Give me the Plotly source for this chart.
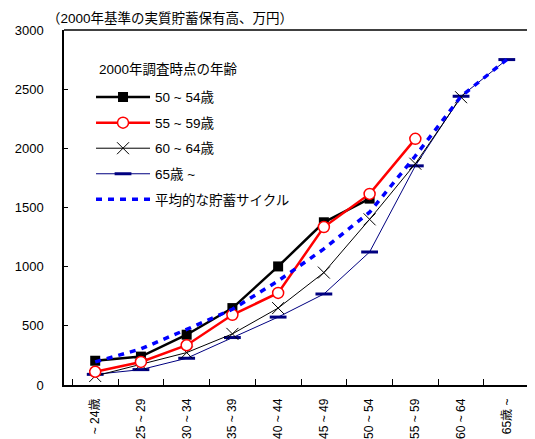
import plotly.graph_objects as go

categories = ["~ 24歳", "25 ~ 29", "30 ~ 34", "35 ~ 39", "40 ~ 44", "45 ~ 49",
              "50 ~ 54", "55 ~ 59", "60 ~ 64", "65歳 ~"]
y_ticks = [0, 500, 1000, 1500, 2000, 2500, 3000]

s50_54 = [205, 240, 425, 650, 1002, 1375, 1575]
s55_59 = [112, 195, 336, 593, 778, 1335, 1615, 2080]
s60_64 = [76, 175, 274, 432, 650, 950, 1400, 1870, 2432]
s65 = [90, 130, 226, 401, 574, 769, 1124, 1852, 2440, 2750]
avg_cycle = [195, 305, 470, 640, 880, 1150, 1460, 1935, 2440, 2750]

names = ["50 ~ 54歳", "55 ~ 59歳", "60 ~ 64歳", "65歳 ~", "平均的な貯蓄サイクル"]
legend_title = "2000年調査時点の年齢"
axis_title = "（2000年基準の実質貯蓄保有高、万円）"

FONT = "Liberation Sans, Noto Sans CJK JP, sans-serif"

fig = go.Figure()
fig.add_trace(go.Scatter(
    x=categories[:len(s65)], y=s65, name=names[3], mode="lines+markers",
    line=dict(color="#000080", width=1),
    marker=dict(symbol="line-ew", size=12, line=dict(color="#000080", width=3)),
    legendgroup="d", legendrank=4))
fig.add_trace(go.Scatter(
    x=categories[:len(s60_64)], y=s60_64, name=names[2], mode="lines+markers",
    line=dict(color="black", width=1),
    marker=dict(symbol="x-thin", size=12, line=dict(color="black", width=1)),
    legendgroup="c", legendrank=3))
fig.add_trace(go.Scatter(
    x=categories[:len(s50_54)], y=s50_54, name=names[0], mode="lines+markers",
    line=dict(color="black", width=2.5),
    marker=dict(symbol="square", size=10, color="black"),
    legendgroup="a", legendrank=1))
fig.add_trace(go.Scatter(
    x=categories[:len(s55_59)], y=s55_59, name=names[1], mode="lines+markers",
    line=dict(color="#FF0000", width=2.5),
    marker=dict(symbol="circle", size=11, color="white",
                line=dict(color="#FF0000", width=1.5)),
    legendgroup="b", legendrank=2))
fig.add_trace(go.Scatter(
    x=categories, y=avg_cycle, name=names[4], mode="lines",
    line=dict(color="#0000FF", width=3.5, dash="6px,6px"),
    legendgroup="e", legendrank=5))

fig.update_layout(
    width=535, height=439,
    margin=dict(l=56, r=5, t=22, b=62),
    paper_bgcolor="white", plot_bgcolor="white",
    font=dict(family=FONT, size=13, color="black"),
    showlegend=True,
    legend=dict(
        x=0.057, y=0.854, xanchor="left", yanchor="top",
        bgcolor="rgba(0,0,0,0)",
        font=dict(size=13.5),
        traceorder="grouped", tracegroupgap=5, itemwidth=54,
    ),
    xaxis=dict(
        type="category", categoryorder="array", categoryarray=categories,
        showline=True, linecolor="black", linewidth=1.5, mirror=False,
        ticks="inside", ticklen=6, tickcolor="black", tickson="boundaries",
        tickangle=-90, showgrid=False, zeroline=False,
        tickfont=dict(size=12), ticklabelstandoff=7,
    ),
    yaxis=dict(
        range=[0, 3000], tickvals=y_ticks,
        showline=True, linecolor="black", linewidth=1.5, mirror=False,
        ticks="inside", ticklen=4, tickcolor="black",
        showgrid=False, zeroline=False, ticklabelstandoff=16,
        tickfont=dict(size=13),
    ),
    shapes=[dict(type="line", xref="paper", yref="paper", x0=0, x1=1, y0=1, y1=1,
                 line=dict(color="black", width=1.5))],
    annotations=[
        dict(text=axis_title, xref="paper", yref="paper",
             x=-0.040, y=1.0, xanchor="left", yanchor="bottom", yshift=2,
             showarrow=False, font=dict(size=13.5)),
        dict(text=legend_title, xref="paper", yref="paper",
             x=0.070, y=0.890, xanchor="left", yanchor="middle",
             showarrow=False, font=dict(size=13.5)),
    ],
)

fig.write_html("out.html")
